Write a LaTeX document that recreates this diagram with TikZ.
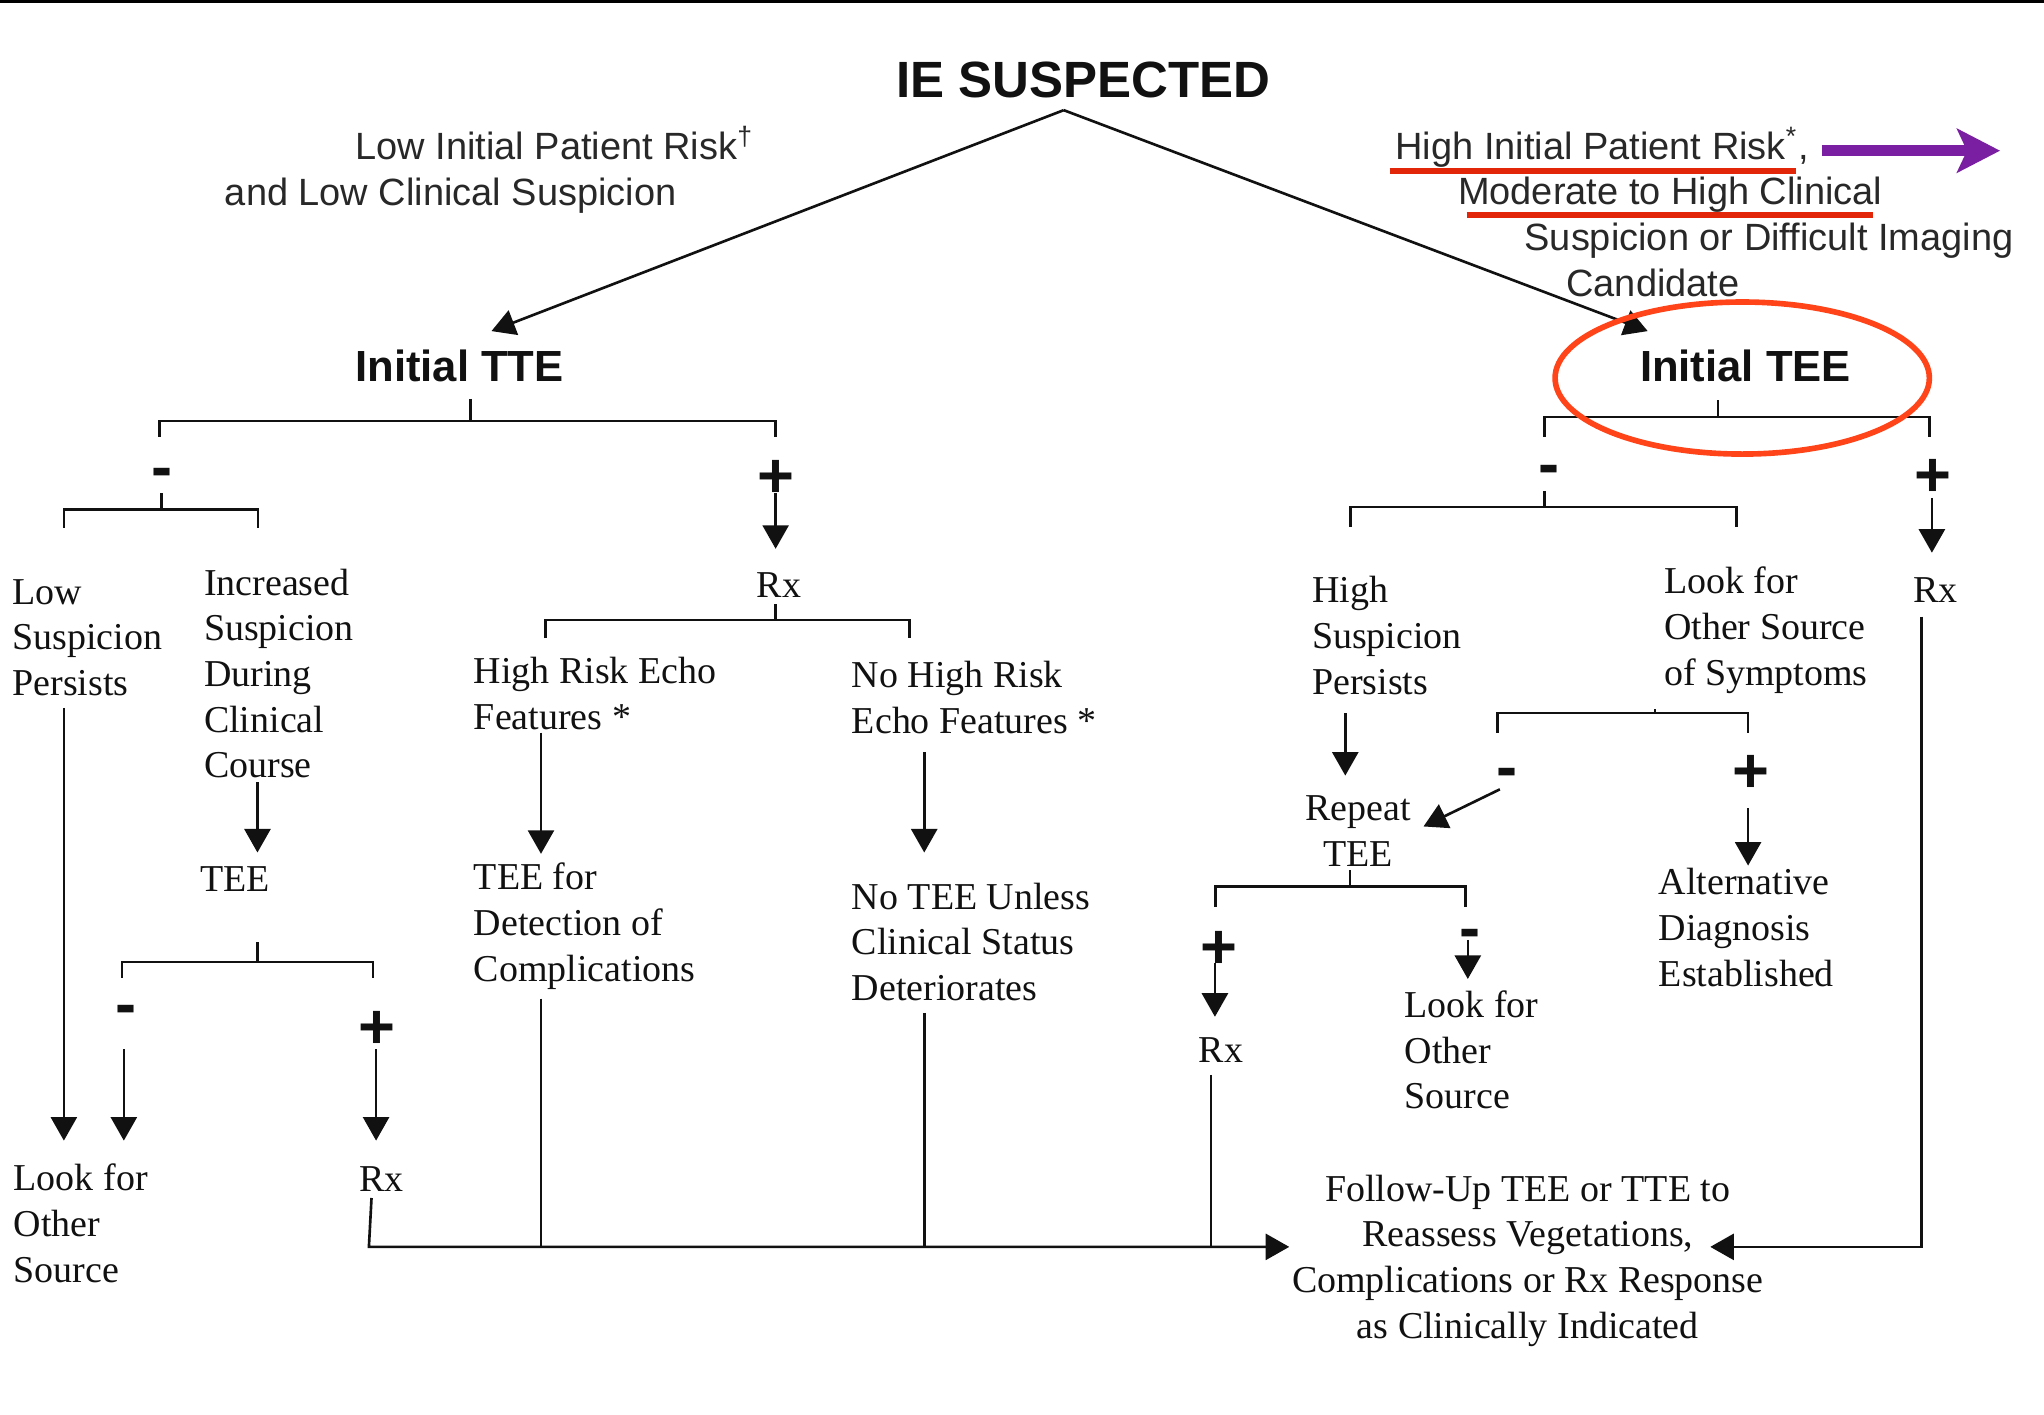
\documentclass[tikz,border=0pt]{standalone}
\usepackage{fontspec}
\setmainfont{Liberation Serif}
\setsansfont{Liberation Sans}
\usetikzlibrary{arrows.meta}
\definecolor{ink}{RGB}{17,17,17}
\definecolor{inksans}{RGB}{40,40,40}
\definecolor{ulred}{RGB}{226,38,10}
\definecolor{ovred}{RGB}{255,68,26}
\definecolor{purp}{RGB}{123,31,162}
\newcommand\firstln{\rule{0pt}{10pt}}
\begin{document}
\begin{tikzpicture}[x=0.013036cm,y=-0.013036cm,
  ln/.style={line width=0.75pt, draw=ink},
  arr/.style={ln, -{Triangle[length=6.7pt,width=7.4pt]}},
  srf/.style={font=\fontsize{10.8}{13}\selectfont, text=ink, inner sep=0pt, align=left, anchor=north west},
  one/.style={font=\fontsize{10.8}{13}\selectfont, text=ink, inner sep=0pt, anchor=base west},
  sns/.style={font=\sffamily\fontsize{10.8}{13}\selectfont, text=inksans, inner sep=0pt, align=left, anchor=north west},
  ttl/.style={font=\sffamily\bfseries\fontsize{12.4}{14}\selectfont, text=ink, inner sep=0pt, anchor=base},
  sgn/.style={font=\sffamily\bfseries\fontsize{18}{18}\selectfont, text=ink, inner sep=0pt, anchor=base}
]
\useasboundingbox (0,0) rectangle (1568,1085);
\fill[black] (0,0) rectangle (1568,2.5);

% titles
\node[ttl, font=\sffamily\bfseries\fontsize{14.5}{16}\selectfont] (ie) at (831,75) {IE SUSPECTED};
\node[ttl] (tte) at (352.5,293) {Initial TTE};
\node[ttl] (tee) at (1339,293) {Initial TEE};

\coordinate (apex) at (816,84.5);
\coordinate (tteIn) at (377,254);
\coordinate (teeIn) at (1264,254);
\draw[arr] (apex) -- (tteIn);
\draw[arr] (apex) -- (teeIn);

\node[sns] (lowrisk) at (172,95) {\firstln\hspace*{37.1pt}Low Initial Patient Risk\textsuperscript{†}\\and Low Clinical Suspicion};
\node[sns] (highrisk) at (1070,94.5) {\firstln High Initial Patient Risk\textsuperscript{*},\\\hspace*{17.8pt}Moderate to High Clinical\\\hspace*{36.7pt}Suspicion or Difficult Imaging\\\hspace*{48.6pt}Candidate};

% ---------- left tree ----------
\draw[ln] (361,306) -- (361,323);
\draw[ln] (122.4,335) |- (594.7,323) -- (594.7,335);
\node[sgn] (mA) at (124,374.6) {-};
\node[sgn] (pA) at (595,381.5) {+};

\draw[ln] (123.7,378.4) -- (123.7,390.7);
\draw[ln] (49,405) |- (198,390.7) -- (198,405);
\node[srf] (lowsusp) at (9,436) {\firstln Low\\Suspicion\\Persists};
\node[srf] (incr) at (156,429) {\firstln Increased\\Suspicion\\During\\Clinical\\Course};
\draw[arr] (49,543) -- (49,875);
\draw[arr] (197.5,600) -- (197.5,654);
\node[one] (teeL) at (153,684) {TEE};
\draw[ln] (197.5,723) -- (197.5,738);
\draw[ln] (93.6,750) |- (286,738) -- (286,750);
\node[sgn] (mB) at (97,786.6) {-};
\node[sgn] (pB) at (289,804) {+};
\draw[arr] (95,805) -- (95,875);
\draw[arr] (288.5,805) -- (288.5,875);
\node[srf] (lookL) at (10,886) {\firstln Look for\\Other\\Source};
\node[one] (rxL) at (275,914) {Rx};

\draw[arr] (595,378) -- (595,421);
\node[one] (rxA) at (580,458) {Rx};
\draw[ln] (594.7,463.5) -- (594.7,475.6);
\draw[ln] (418.5,489.5) |- (697.5,475.6) -- (697.5,489.5);
\node[srf] (hre) at (363,497) {\firstln High Risk Echo\\Features *};
\node[srf] (nhre) at (653,500) {\firstln No High Risk\\Echo Features *};
\draw[arr] (415,562) -- (415,655);
\draw[arr] (709,577) -- (709,654);
\node[srf] (teefor) at (363,655) {\firstln TEE for\\Detection of\\Complications};
\node[srf] (notee) at (653,670) {\firstln No TEE Unless\\Clinical Status\\Deteriorates};

\node[srf, align=center, anchor=north] (follow) at (1172,894) {\firstln Follow-Up TEE or TTE to\\Reassess Vegetations,\\Complications or Rx Response\\as Clinically Indicated};
\coordinate (fin) at (989,956.5);
\coordinate (fin2) at (1312,956.5);
\draw[arr] (285,919) -- (283,956.5) -- (fin);
\draw[ln] (415,766) -- (415,956.5);
\draw[ln] (709,777) -- (709,956.5);

% ---------- right tree ----------
\draw[ln] (1318,307) -- (1318,320);
\draw[ln] (1184.6,335) |- (1480,320) -- (1480,335);
\node[sgn] (mC) at (1188,372.6) {-};
\node[sgn] (pC) at (1483,381) {+};
\draw[arr] (1482,382) -- (1482,424);
\node[one] (rxR) at (1467,462) {Rx};
\draw[arr] (1474,473) -- (1474,956.5) -- (fin2);

\draw[ln] (1184.6,377) -- (1184.6,389);
\draw[ln] (1036,404) |- (1332,389) -- (1332,404);
\node[srf] (highsusp) at (1006,435) {\firstln High\\Suspicion\\Persists};
\node[srf] (looksym) at (1276,428) {\firstln Look for\\Other Source\\of Symptoms};
\draw[arr] (1032,547) -- (1032,595);
\draw[ln] (1149,562) |- (1341,547) -- (1341,562);
\draw[ln] (1269.6,547) -- (1269.6,544);
\node[sgn] (mD) at (1156,604.6) {-};
\node[sgn] (pD) at (1343,608) {+};
\draw[arr] (1150.6,605.5) -- (1092,634);
\draw[arr] (1341,620) -- (1341,664);
\node[srf, align=center, anchor=north] (repeat) at (1042,602) {\firstln Repeat\\TEE};
\node[srf] (alt) at (1272,659) {\firstln Alternative\\Diagnosis\\Established};

\draw[ln] (1035.6,667.4) -- (1035.6,680);
\draw[ln] (932.5,695.5) |- (1124,680) -- (1124,695.5);
\node[sgn] (pE) at (935,743) {+};
\node[sgn] (mE) at (1128,728.6) {-};
\draw[arr] (932,739) -- (932,780);
\draw[arr] (1126,721) -- (1126,751);
\node[one] (rxE) at (919,815) {Rx};
\node[srf] (lookR) at (1077,753) {\firstln Look for\\Other\\Source};
\draw[ln] (929,824.6) -- (929,956.5);

% ---------- annotations ----------
\draw[ulred, line width=1.7pt] (1066,131) -- (1378,131);
\draw[ulred, line width=1.9pt] (1125,165) -- (1437,165);
\draw[purp, line width=3.1pt, -{Stealth[length=12.2pt,width=12.4pt,inset=2.8pt]}] (1398,115.6) -- (1534.3,115.6);
\draw[ovred, line width=1.6pt] (1336.5,290) ellipse [x radius=1.8707cm, y radius=0.760cm];
\end{tikzpicture}
\end{document}
